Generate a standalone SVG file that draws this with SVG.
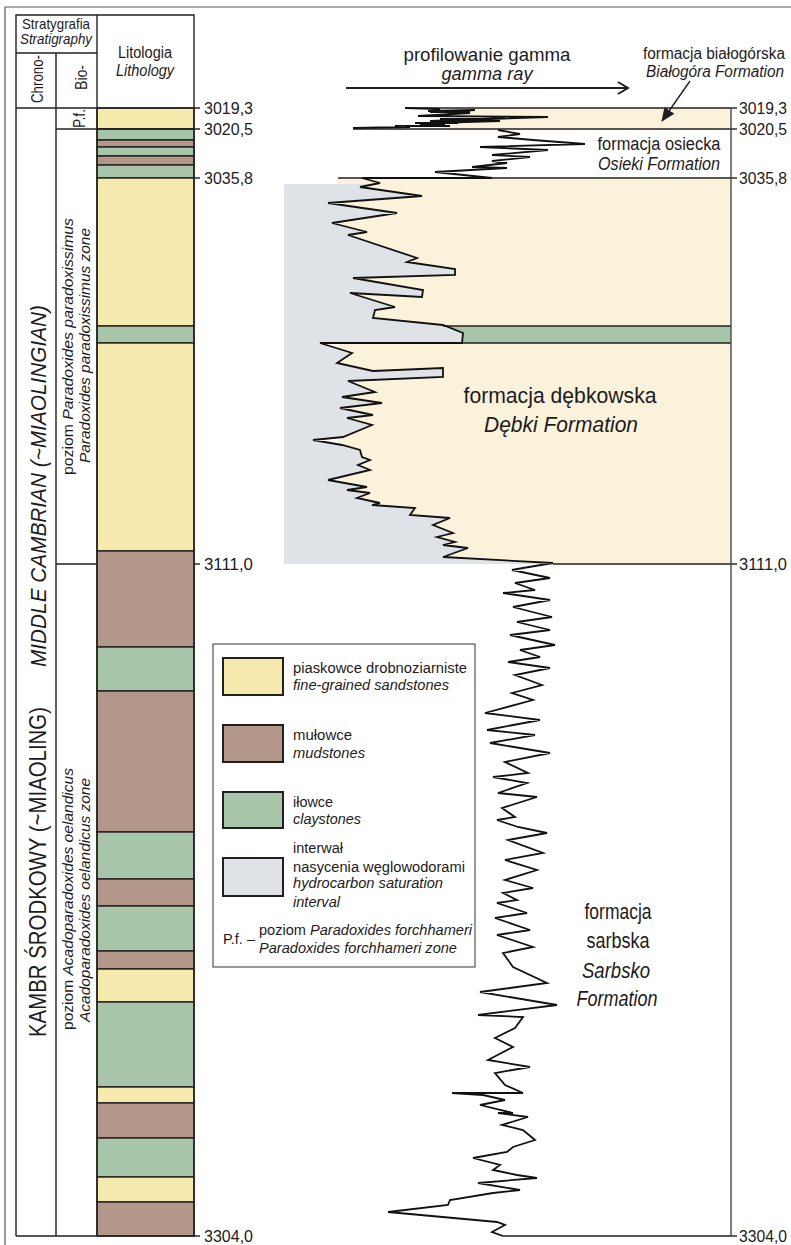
<svg xmlns="http://www.w3.org/2000/svg" width="791" height="1245" viewBox="0 0 791 1245">
<style>
text{font-family:"Liberation Sans",Arial,sans-serif;fill:#1e1b1c}
.i{font-style:italic}
.ln{stroke:#231f20;stroke-width:1.4;fill:none}
.fr{stroke:#555;stroke-width:1.2;fill:none}
.Y{fill:#f6e9ae;stroke:#231f20;stroke-width:1.4}
.B{fill:#b39889;stroke:#231f20;stroke-width:1.4}
.G{fill:#a7c5a9;stroke:#231f20;stroke-width:1.4}
.sw{stroke:#231f20;stroke-width:2}
.dl{font-size:16.5px}
.lg{font-size:15.5px}
.curve{fill:none;stroke:#111;stroke-width:1.8;stroke-linejoin:miter}
</style>
<defs>
<marker id="chev" markerWidth="14" markerHeight="14" refX="11" refY="7" orient="auto" markerUnits="userSpaceOnUse">
<path d="M1,1 L11,7 L1,13" fill="none" stroke="#231f20" stroke-width="2"/>
</marker>
<marker id="tri" markerWidth="14" markerHeight="12" refX="13" refY="6" orient="auto" markerUnits="userSpaceOnUse">
<path d="M0,0 L14,6 L0,12 Z" fill="#231f20"/>
</marker>
</defs>
<rect width="791" height="1245" fill="#fff"/>

<g id="frame">
<line class="fr" x1="5" y1="7" x2="791" y2="7"/>
<line class="fr" x1="5" y1="7" x2="5" y2="1245"/>
</g>

<g id="lithology">
<rect class="Y" x="97" y="108" width="97" height="21"/>
<rect class="G" x="97" y="129" width="97" height="11"/>
<rect class="B" x="97" y="140" width="97" height="7"/>
<rect class="G" x="97" y="147" width="97" height="9"/>
<rect class="B" x="97" y="156" width="97" height="9"/>
<rect class="G" x="97" y="165" width="97" height="13"/>
<rect class="Y" x="97" y="178" width="97" height="148"/>
<rect class="G" x="97" y="326" width="97" height="17"/>
<rect class="Y" x="97" y="343" width="97" height="208"/>
<rect class="B" x="97" y="551" width="97" height="96"/>
<rect class="G" x="97" y="647" width="97" height="44"/>
<rect class="B" x="97" y="691" width="97" height="141"/>
<rect class="G" x="97" y="832" width="97" height="47"/>
<rect class="B" x="97" y="879" width="97" height="27"/>
<rect class="G" x="97" y="906" width="97" height="45"/>
<rect class="B" x="97" y="951" width="97" height="18"/>
<rect class="Y" x="97" y="969" width="97" height="33"/>
<rect class="G" x="97" y="1002" width="97" height="85"/>
<rect class="Y" x="97" y="1087" width="97" height="16"/>
<rect class="B" x="97" y="1103" width="97" height="35"/>
<rect class="G" x="97" y="1138" width="97" height="39"/>
<rect class="Y" x="97" y="1177" width="97" height="25"/>
<rect class="B" x="97" y="1202" width="97" height="34"/>
</g>

<g id="table">
<polyline class="ln" points="16,1236 16,15 194,15 194,1236 16,1236"/>
<line class="ln" x1="97" y1="15" x2="97" y2="1236"/>
<line class="ln" x1="16" y1="53" x2="97" y2="53"/>
<line class="ln" x1="56" y1="53" x2="56" y2="1236"/>
<line class="ln" x1="16" y1="108" x2="200" y2="108"/>
<line class="ln" x1="56" y1="129" x2="200" y2="129"/>
<line class="ln" x1="194" y1="178" x2="200" y2="178"/>
<line class="ln" x1="56" y1="564" x2="97" y2="564"/>
<line class="ln" x1="194" y1="564" x2="200" y2="564"/>
<line class="ln" x1="194" y1="1236" x2="200" y2="1236"/>
</g>

<g id="header">
<text x="56" y="29" font-size="15" text-anchor="middle" textLength="68" lengthAdjust="spacingAndGlyphs">Stratygrafia</text>
<text class="i" x="56" y="44" font-size="15" text-anchor="middle" textLength="72" lengthAdjust="spacingAndGlyphs">Stratigraphy</text>
<text x="145" y="58" font-size="16" text-anchor="middle" textLength="54" lengthAdjust="spacingAndGlyphs">Litologia</text>
<text class="i" x="145" y="76" font-size="16" text-anchor="middle" textLength="58" lengthAdjust="spacingAndGlyphs">Lithology</text>
<text transform="translate(43,79) rotate(-90)" font-size="16.5" text-anchor="middle" textLength="48" lengthAdjust="spacingAndGlyphs">Chrono-</text>
<text transform="translate(87,77.5) rotate(-90)" font-size="16" text-anchor="middle" textLength="25" lengthAdjust="spacingAndGlyphs">Bio-</text>
<text transform="translate(85,118.5) rotate(-90)" font-size="16" text-anchor="middle" textLength="19" lengthAdjust="spacingAndGlyphs">P.f.</text>
</g>

<g id="chrono">
<text class="i" transform="translate(46,486) rotate(-90)" font-size="21.5" text-anchor="middle" textLength="362" lengthAdjust="spacingAndGlyphs">MIDDLE CAMBRIAN (~MIAOLINGIAN)</text>
<text transform="translate(46,872) rotate(-90)" font-size="24" text-anchor="middle" textLength="330" lengthAdjust="spacingAndGlyphs">KAMBR ŚRODKOWY (~MIAOLING)</text>
</g>

<g id="bio">
<text transform="translate(73,346.5) rotate(-90)" font-size="15" text-anchor="middle" textLength="257" lengthAdjust="spacingAndGlyphs">poziom <tspan class="i">Paradoxides paradoxissimus</tspan></text>
<text class="i" transform="translate(90,345.5) rotate(-90)" font-size="15" text-anchor="middle" textLength="235" lengthAdjust="spacingAndGlyphs">Paradoxides paradoxissimus zone</text>
<text transform="translate(73,899) rotate(-90)" font-size="15" text-anchor="middle" textLength="262" lengthAdjust="spacingAndGlyphs">poziom <tspan class="i">Acadoparadoxides oelandicus</tspan></text>
<text class="i" transform="translate(90,900) rotate(-90)" font-size="15" text-anchor="middle" textLength="244" lengthAdjust="spacingAndGlyphs">Acadoparadoxides oelandicus zone</text>
</g>

<g id="depth-left">
<text class="dl" x="204" y="114" textLength="49" lengthAdjust="spacingAndGlyphs">3019,3</text>
<text class="dl" x="204" y="135" textLength="49" lengthAdjust="spacingAndGlyphs">3020,5</text>
<text class="dl" x="204" y="184" textLength="49" lengthAdjust="spacingAndGlyphs">3035,8</text>
<text class="dl" x="204" y="570" textLength="49" lengthAdjust="spacingAndGlyphs">3111,0</text>
<text class="dl" x="204" y="1242" textLength="49" lengthAdjust="spacingAndGlyphs">3304,0</text>
</g>

<g id="gamma-fills">
<polygon points="472,108 731,108 731,129 440,129" fill="#fbf2dc"/>
<rect x="338" y="178" width="393" height="386" fill="#fbf2dc"/>
<rect x="440" y="326" width="291" height="17" fill="#a7c5a9"/>
<polygon fill="#dfe3e8" points="284,184 368,184 360,187 422,196 328,203 397,213 332,223 367,232 348,235 417,258 407,262 455,269 455,275 353,278 423,290 422,297 350,293 395,307 375,310 373,318 443,325 463,333 462,343 320,343 333,347 352,353 337,363 373,371 443,368 443,377 348,381 375,392 342,397 382,403 340,408 373,415 347,418 372,425 343,437 313,440 342,445 360,450 362,457 370,460 358,465 370,470 328,480 367,487 347,490 370,493 357,498 380,503 372,505 415,508 410,515 450,518 433,525 453,533 437,537 455,542 443,545 468,548 443,557 553,563 553,564 284,564"/>
</g>

<g id="gamma-lines">
<line class="ln" x1="405" y1="108" x2="731" y2="108"/>
<line class="ln" x1="353" y1="129" x2="731" y2="129"/>
<line class="ln" x1="338" y1="178" x2="731" y2="178"/>
<line class="ln" x1="443" y1="326" x2="731" y2="326"/>
<line class="ln" x1="320" y1="343" x2="731" y2="343"/>
<line class="ln" x1="553" y1="564" x2="731" y2="564"/>
<line class="ln" x1="503" y1="1236" x2="731" y2="1236"/>
<line x1="731" y1="108" x2="731" y2="1236" stroke="#555" stroke-width="1.5"/>
<line class="ln" x1="731" y1="108" x2="737" y2="108"/>
<line class="ln" x1="731" y1="129" x2="737" y2="129"/>
<line class="ln" x1="731" y1="178" x2="737" y2="178"/>
<line class="ln" x1="731" y1="564" x2="737" y2="564"/>
<line class="ln" x1="731" y1="1236" x2="737" y2="1236"/>
</g>

<g id="gamma-curve">
<path class="curve" d="M405,108 L440,109 L428,111 L475,110 L445,112 L470,113 L418,116 L548,117 L490,119 L505,118 L430,121 L500,121 L465,122 L420,124 L445,125 L395,126 L410,127 L353,128"/>
<path class="curve" stroke-width="2.8" d="M430,112 L470,112 M440,119 L482,119 M415,123 L458,123 M405,126 L450,126"/>
<path class="curve" d="M498,130 L520,134 L498,137 L510,138 L533,140 L585,144 L480,147 L548,150 L492,155 L530,157 L492,161 L507,163 L472,167 L507,168 L435,172 L492,178 L362,178 L380,183 L360,187 L422,196 L328,203 L397,213 L332,223 L367,232 L348,235 L417,258 L407,262 L455,269 L455,275 L353,278 L423,290 L422,297 L350,293 L395,307 L375,310 L373,318 L443,325 L463,333 L462,343 L320,343 L333,347 L352,353 L337,363 L373,371 L443,368 L443,377 L348,381 L375,392 L342,397 L382,403 L340,408 L373,415 L347,418 L372,425 L343,437 L313,440 L342,445 L360,450 L362,457 L370,460 L358,465 L370,470 L328,480 L367,487 L347,490 L370,493 L357,498 L380,503 L372,505 L415,508 L410,515 L450,518 L433,525 L453,533 L437,537 L455,542 L443,545 L468,548 L443,557 L553,563 L523,568 L512,570 L550,578 L515,583 L535,590 L503,593 L550,600 L513,607 L552,617 L517,622 L550,630 L510,635 L555,645 L520,650 L540,657 L508,662 L550,668 L515,675 L542,685 L512,693 L533,700 L485,713 L540,720 L487,730 L535,735 L490,743 L550,753 L505,762 L528,773 L493,777 L527,783 L498,793 L537,797 L502,808 L515,817 L497,820 L518,827 L547,833 L508,840 L543,853 L505,860 L537,870 L505,880 L533,888 L503,893 L517,900 L497,903 L527,913 L495,918 L530,930 L497,935 L533,947 L503,953 L513,967 L547,983 L480,992 L557,1005 L478,1015 L523,1017 L515,1028 L495,1038 L513,1047 L488,1060 L530,1067 L495,1073 L505,1085 L523,1093 L452,1093 L483,1095 L505,1100 L480,1105 L513,1113 L498,1113 L528,1117 L502,1125 L523,1130 L535,1140 L513,1147 L507,1152 L473,1158 L500,1165 L493,1170 L517,1175 L537,1178 L478,1183 L520,1190 L493,1193 L450,1200 L448,1205 L388,1212 L497,1222 L505,1225 L492,1232 L503,1236"/>
</g>

<g id="depth-right">
<text class="dl" x="739" y="114" textLength="48" lengthAdjust="spacingAndGlyphs">3019,3</text>
<text class="dl" x="739" y="135" textLength="48" lengthAdjust="spacingAndGlyphs">3020,5</text>
<text class="dl" x="739" y="184" textLength="48" lengthAdjust="spacingAndGlyphs">3035,8</text>
<text class="dl" x="739" y="570" textLength="48" lengthAdjust="spacingAndGlyphs">3111,0</text>
<text class="dl" x="739" y="1242" textLength="48" lengthAdjust="spacingAndGlyphs">3304,0</text>
</g>

<g id="gamma-title">
<text x="487" y="61" font-size="18.5" text-anchor="middle" textLength="167" lengthAdjust="spacingAndGlyphs">profilowanie gamma</text>
<text class="i" x="487" y="80" font-size="18.5" text-anchor="middle" textLength="91" lengthAdjust="spacingAndGlyphs">gamma ray</text>
<line x1="346" y1="88" x2="628" y2="88" stroke="#231f20" stroke-width="2" marker-end="url(#chev)"/>
</g>

<g id="bialogora-label">
<text x="785" y="59" font-size="16" text-anchor="end" textLength="142" lengthAdjust="spacingAndGlyphs">formacja białogórska</text>
<text class="i" x="784" y="77" font-size="16" text-anchor="end" textLength="138" lengthAdjust="spacingAndGlyphs">Białogóra Formation</text>
<line x1="690" y1="81" x2="662" y2="121" stroke="#231f20" stroke-width="1.4" marker-end="url(#tri)"/>
</g>

<g id="osieki-label">
<text x="659" y="150" font-size="18" text-anchor="middle" textLength="123" lengthAdjust="spacingAndGlyphs">formacja osiecka</text>
<text class="i" x="659" y="170" font-size="18" text-anchor="middle" textLength="122" lengthAdjust="spacingAndGlyphs">Osieki Formation</text>
</g>

<g id="debki-label">
<text x="560" y="403" font-size="22" text-anchor="middle" textLength="193" lengthAdjust="spacingAndGlyphs">formacja dębkowska</text>
<text class="i" x="561" y="432" font-size="22" text-anchor="middle" textLength="154" lengthAdjust="spacingAndGlyphs">Dębki Formation</text>
</g>

<g id="sarbsko-label">
<text x="618" y="919" font-size="22" text-anchor="middle" textLength="67" lengthAdjust="spacingAndGlyphs">formacja</text>
<text x="618" y="948" font-size="22" text-anchor="middle" textLength="63" lengthAdjust="spacingAndGlyphs">sarbska</text>
<text class="i" x="616" y="978" font-size="22" text-anchor="middle" textLength="68" lengthAdjust="spacingAndGlyphs">Sarbsko</text>
<text class="i" x="617" y="1006" font-size="22" text-anchor="middle" textLength="81" lengthAdjust="spacingAndGlyphs">Formation</text>
</g>

<g id="legend">
<rect x="213" y="644" width="262" height="323" fill="#fff" stroke="#555" stroke-width="1.2"/>
<rect class="sw" x="223" y="658" width="60" height="37" fill="#f6e9ae"/>
<rect class="sw" x="223" y="725" width="60" height="37" fill="#b39889"/>
<rect class="sw" x="223" y="792" width="60" height="36" fill="#a7c5a9"/>
<rect class="sw" x="223" y="858" width="60" height="38" fill="#dfe3e8"/>
<text class="lg" x="293" y="673" textLength="174" lengthAdjust="spacingAndGlyphs">piaskowce drobnoziarniste</text>
<text class="lg i" x="293" y="690" textLength="156" lengthAdjust="spacingAndGlyphs">fine-grained sandstones</text>
<text class="lg" x="293" y="740" textLength="59" lengthAdjust="spacingAndGlyphs">mułowce</text>
<text class="lg i" x="293" y="758" textLength="72" lengthAdjust="spacingAndGlyphs">mudstones</text>
<text class="lg" x="293" y="807" textLength="40" lengthAdjust="spacingAndGlyphs">iłowce</text>
<text class="lg i" x="293" y="824" textLength="68" lengthAdjust="spacingAndGlyphs">claystones</text>
<text class="lg" x="293" y="853" textLength="50" lengthAdjust="spacingAndGlyphs">interwał</text>
<text class="lg" x="293" y="872" textLength="172" lengthAdjust="spacingAndGlyphs">nasycenia węglowodorami</text>
<text class="lg i" x="293" y="888" textLength="150" lengthAdjust="spacingAndGlyphs">hydrocarbon saturation</text>
<text class="lg i" x="293" y="907" textLength="47" lengthAdjust="spacingAndGlyphs">interval</text>
<text class="lg" x="223" y="944" textLength="32" lengthAdjust="spacingAndGlyphs">P.f. –</text>
<text class="lg" x="259" y="935" textLength="213" lengthAdjust="spacingAndGlyphs">poziom <tspan class="i">Paradoxides forchhameri</tspan></text>
<text class="lg i" x="259" y="953" textLength="198" lengthAdjust="spacingAndGlyphs">Paradoxides forchhameri zone</text>
</g>
</svg>
